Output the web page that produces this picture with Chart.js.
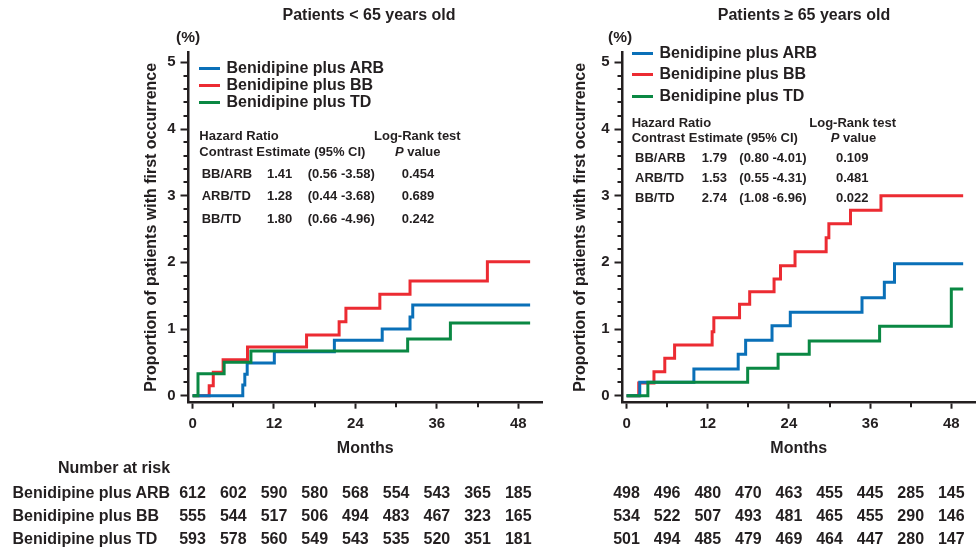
<!DOCTYPE html>
<html><head><meta charset="utf-8">
<script src="https://cdn.jsdelivr.net/npm/chart.js@4.4.0/dist/chart.umd.min.js"></script>
<style>
html,body{margin:0;padding:0;background:#fff;}
#wrap{position:relative;width:976px;height:550px;overflow:hidden;font-family:"Liberation Sans",Arial,sans-serif;font-weight:bold;color:#231f20;}
.c{position:absolute;top:0;}
.t{position:absolute;white-space:nowrap;line-height:1;}
.sw{position:absolute;height:3px;width:21px;}
</style></head><body>
<div id="wrap">
<div class="c" style="left:0px;"><canvas id="c1" width="560" height="470"></canvas></div>
<div class="c" style="left:540px;"><canvas id="c2" width="436" height="470"></canvas></div>
</div>
<script>
// ---------- DATA ----------
const seriesNames = ['Benidipine plus ARB', 'Benidipine plus BB', 'Benidipine plus TD'];
const xMajorTicks = [0, 12, 24, 36, 48];
const xMinorTicks = [6, 18, 30, 42];
const yMajorTicks = [0, 1, 2, 3, 4, 5];
const yMinorTicks = [0.2,0.4,0.6,0.8,1.2,1.4,1.6,1.8,2.2,2.4,2.6,2.8,3.2,3.4,3.6,3.8,4.2,4.4,4.6,4.8];
const riskMonths = [0, 6, 12, 18, 24, 30, 36, 42, 48];

// Patients < 65 years old
const leftArbMonths = [0, 7.4, 7.7, 8.05, 12.05, 20.9, 27.95, 32.05, 32.45, 49.75];
const leftArbValues = [0, 0.16, 0.32, 0.49, 0.66, 0.83, 1.0, 1.18, 1.36, 1.36];
const leftBbMonths  = [0, 2.45, 3.05, 4.5, 8.1, 16.8, 21.6, 22.6, 27.6, 32.05, 43.45, 49.75];
const leftBbValues  = [0, 0.15, 0.35, 0.54, 0.73, 0.91, 1.11, 1.31, 1.52, 1.72, 2.01, 2.01];
const leftTdMonths  = [0, 0.8, 4.65, 8.6, 31.7, 38.0, 49.75];
const leftTdValues  = [0, 0.33, 0.5, 0.67, 0.85, 1.09, 1.09];

// Patients >= 65 years old
const rightArbMonths = [0, 1.95, 9.95, 16.5, 17.6, 21.5, 24.2, 34.8, 38.1, 39.6, 49.75];
const rightArbValues = [0, 0.2, 0.4, 0.62, 0.83, 1.05, 1.25, 1.47, 1.7, 1.98, 1.98];
const rightBbMonths  = [0, 1.8, 4.05, 5.65, 7.1, 12.65, 12.9, 16.7, 18.2, 21.8, 22.75, 24.9, 29.5, 29.9, 33.1, 37.6, 49.75];
const rightBbValues  = [0, 0.19, 0.36, 0.56, 0.76, 0.96, 1.17, 1.37, 1.56, 1.75, 1.95, 2.16, 2.37, 2.58, 2.78, 3.0, 3.0];
const rightTdMonths  = [0, 3.15, 17.9, 22.4, 27.0, 37.4, 48.0, 49.75];
const rightTdValues  = [0, 0.2, 0.41, 0.62, 0.82, 1.04, 1.6, 1.6];

// Number at risk
const leftRiskArb  = [612, 602, 590, 580, 568, 554, 543, 365, 185];
const leftRiskBb   = [555, 544, 517, 506, 494, 483, 467, 323, 165];
const leftRiskTd   = [593, 578, 560, 549, 543, 535, 520, 351, 181];
const rightRiskArb = [498, 496, 480, 470, 463, 455, 445, 285, 145];
const rightRiskBb  = [534, 522, 507, 493, 481, 465, 455, 290, 146];
const rightRiskTd  = [501, 494, 485, 479, 469, 464, 447, 280, 147];

// Hazard ratio tables
const hrContrasts   = ['BB/ARB', 'ARB/TD', 'BB/TD'];
const leftHr        = ['1.41', '1.28', '1.80'];
const leftCi        = ['(0.56 -3.58)', '(0.44 -3.68)', '(0.66 -4.96)'];
const leftP         = ['0.454', '0.689', '0.242'];
const rightHr       = ['1.79', '1.53', '2.74'];
const rightCi       = ['(0.80 -4.01)', '(0.55 -4.31)', '(1.08 -6.96)'];
const rightP        = ['0.109', '0.481', '0.022'];

// ---------- STYLE ----------
const AXIS = '#231f20';
const COL = ['#0a70b8', '#ec2b32', '#0a8843'];
const X_MIN = -0.6, X_MAX = 51.5, Y_MIN = -0.105, Y_MAX = 5.155;
Chart.defaults.font.family = '"Liberation Sans", Arial, sans-serif';
Chart.defaults.font.weight = 'bold';
Chart.defaults.color = AXIS;

const minorTickPlugin = {
  id: 'minorTicks',
  afterDraw(chart) {
    const ctx = chart.ctx, xs = chart.scales.x, ys = chart.scales.y;
    ctx.save();
    ctx.strokeStyle = AXIS; ctx.lineWidth = 2;
    ctx.beginPath();
    yMinorTicks.forEach(v => { const p = Math.round(ys.getPixelForValue(v)); ctx.moveTo(ys.right - 5, p); ctx.lineTo(ys.right, p); });
    xMinorTicks.forEach(v => { const p = Math.round(xs.getPixelForValue(v)); ctx.moveTo(p, xs.top); ctx.lineTo(p, xs.top + 4.5); });
    ctx.stroke();
    ctx.restore();
  }
};

function makeChart(id, sets, padLeft, yWidth, padRight) {
  const datasets = sets.map(s => ({
    data: s.m.map((m, i) => ({x: m, y: s.v[i]})),
    borderColor: s.c, borderWidth: 3, pointRadius: 0, stepped: true, fill: false,
    borderJoinStyle: 'miter', borderCapStyle: 'butt'
  }));
  return new Chart(document.getElementById(id), {
    type: 'line',
    data: {datasets},
    options: {
      responsive: false, animation: false, devicePixelRatio: 1,
      layout: {padding: {left: padLeft, right: padRight, top: 52, bottom: 0}},
      plugins: {legend: {display: false}, tooltip: {enabled: false}},
      scales: {
        x: {
          type: 'linear', min: X_MIN, max: X_MAX,
          afterBuildTicks: s => { s.ticks = xMajorTicks.map(v => ({value: v})); },
          afterFit: s => { s.height = 67.3; },
          ticks: {autoSkip: false, maxRotation: 0, padding: 6.5, font: {size: 15, weight: 'bold'}, color: AXIS},
          grid: {drawOnChartArea: false, drawTicks: true, tickLength: 6, tickWidth: 2, tickColor: AXIS},
          border: {display: true, width: 2.5, color: AXIS},
          title: {display: true, text: 'Months', font: {size: 16, weight: 'bold'}, color: AXIS, padding: {top: 0, bottom: 11.4}}
        },
        y: {
          type: 'linear', min: Y_MIN, max: Y_MAX,
          afterBuildTicks: s => { s.ticks = yMajorTicks.map(v => ({value: v})); },
          afterFit: s => { s.width = yWidth; },
          ticks: {padding: 5, font: {size: 15, weight: 'bold'}, color: AXIS},
          grid: {drawOnChartArea: false, drawTicks: true, tickLength: 8, tickWidth: 2, tickColor: AXIS},
          border: {display: true, width: 2.5, color: AXIS},
          title: {display: true, text: 'Proportion of patients with first occurrence', font: {size: 16, weight: 'bold'}, color: AXIS, padding: {top: 2.5, bottom: 0}}
        }
      }
    },
    plugins: [minorTickPlugin]
  });
}

// dataset order: first drawn on top
const chart1 = makeChart('c1', [
  {m: leftTdMonths, v: leftTdValues, c: COL[2]},
  {m: leftArbMonths, v: leftArbValues, c: COL[0]},
  {m: leftBbMonths, v: leftBbValues, c: COL[1]}
], 139.4, 49.1, 18);
const chart2 = makeChart('c2', [
  {m: rightTdMonths, v: rightTdValues, c: COL[2]},
  {m: rightArbMonths, v: rightArbValues, c: COL[0]},
  {m: rightBbMonths, v: rightBbValues, c: COL[1]}
], 28.6, 53.9, 1);

// ---------- TEXT ----------
const wrap = document.getElementById('wrap');
function txt(html, x, y, size, center) {
  const d = document.createElement('div');
  d.className = 't';
  d.innerHTML = html;
  d.style.left = x + 'px'; d.style.top = y + 'px';
  d.style.fontSize = size + 'px';
  d.style.transform = 'translate(' + (center ? '-50%' : '0') + ',-50%)';
  wrap.appendChild(d);
}
function swatch(x, y, c) {
  const d = document.createElement('div');
  d.className = 'sw';
  d.style.left = x + 'px'; d.style.top = (y - 1.5) + 'px'; d.style.background = c;
  wrap.appendChild(d);
}

txt('Patients &lt; 65 years old', 369, 15, 16, true);
txt('Patients &ge; 65 years old', 804, 15, 16, true);
txt('(%)', 176, 37, 15.5, false);
txt('(%)', 608, 37, 15.5, false);

// legends
[68, 85, 102].forEach((y, i) => { swatch(199, y, COL[i]); txt(seriesNames[i], 226.5, y, 16, false); });
[53, 74, 96].forEach((y, i) => { swatch(632, y, COL[i]); txt(seriesNames[i], 659.5, y, 16, false); });

// HR tables
function hrTable(x0, yH1, yH2, xLR, xPV, rows, cols, hr, ci, p) {
  txt('Hazard Ratio', x0, yH1, 13, false);
  txt('Log-Rank test', xLR, yH1, 13, false);
  txt('Contrast Estimate (95% CI)', x0, yH2, 13, false);
  txt('<i>P</i> value', xPV, yH2, 13, false);
  rows.forEach((y, i) => {
    txt(hrContrasts[i], cols[0], y, 13, false);
    txt(hr[i], cols[1], y, 13, false);
    txt(ci[i], cols[2], y, 13, false);
    txt(p[i], cols[3], y, 13, false);
  });
}
hrTable(199.3, 135, 151, 374, 395, [173, 195, 218], [201.7, 267, 307.7, 401.7], leftHr, leftCi, leftP);
hrTable(631.7, 121.7, 137, 809.3, 830.7, [157, 177, 197], [635, 701.7, 739.3, 836], rightHr, rightCi, rightP);

// Number at risk
txt('Number at risk', 58, 468, 16, false);
const riskRows = [493, 516, 538.5];
riskRows.forEach((y, i) => txt(seriesNames[i], 12.5, y, 16, false));
function riskNums(chart, offX, arrs) {
  const xs = chart.scales.x;
  arrs.forEach((arr, i) => {
    arr.forEach((n, j) => txt(String(n), offX + xs.getPixelForValue(riskMonths[j]), riskRows[i], 16, true));
  });
}
riskNums(chart1, 0, [leftRiskArb, leftRiskBb, leftRiskTd]);
riskNums(chart2, 540, [rightRiskArb, rightRiskBb, rightRiskTd]);
</script>
</body></html>
